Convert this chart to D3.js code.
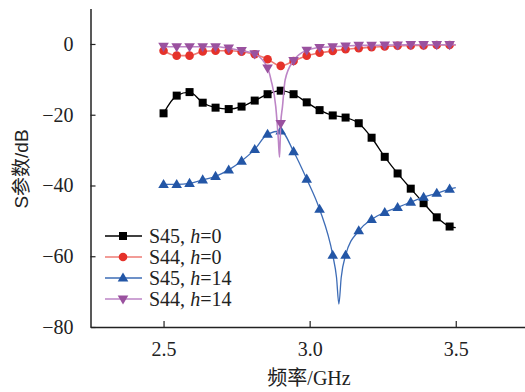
<!DOCTYPE html>
<html><head><meta charset="utf-8">
<script src="https://cdn.jsdelivr.net/npm/d3@7"></script>
<style>
html,body{margin:0;padding:0;background:#fff;}
svg{display:block;}
</style></head>
<body>
<svg id="chart" width="525" height="392"></svg>
<script>
// Marker frequencies (GHz)
const freq = [2.500, 2.545, 2.589, 2.634, 2.678, 2.723, 2.767, 2.812, 2.856, 2.901, 2.945, 2.990, 3.034, 3.079, 3.123, 3.168, 3.212, 3.257, 3.301, 3.346, 3.390, 3.435, 3.479];
// Series values at markers (dB)
const s45h0  = [-19.6, -14.6, -13.6, -16.6, -18.0, -18.4, -17.7, -16.0, -14.2, -13.2, -14.2, -16.5, -18.7, -20.2, -20.8, -22.4, -26.5, -31.9, -36.6, -40.9, -45.0, -49.0, -51.6];
const s44h0  = [-1.9, -3.3, -3.3, -2.1, -1.9, -1.9, -2.2, -2.9, -4.3, -6.2, -4.8, -3.3, -2.5, -2.0, -1.5, -1.2, -0.9, -0.7, -0.5, -0.4, -0.4, -0.3, -0.3];
const s45h14 = [-39.7, -39.7, -39.4, -38.4, -37.4, -35.6, -33.1, -29.8, -25.5, -24.6, -30.4, -38.2, -46.7, -59.7, -59.7, -52.8, -49.6, -47.6, -46.2, -44.7, -43.3, -42.2, -41.0];
const s44h14 = [-0.7, -0.8, -0.8, -0.8, -0.8, -1.2, -1.9, -2.8, -6.8, -22.5, -4.7, -1.8, -1.0, -0.8, -0.6, -0.4, -0.4, -0.3, -0.3, -0.2, -0.2, -0.2, -0.2];
// Extra line-only samples (no marker): resonance dips and end of sweep
const s45h0ExtraF  = [3.500];
const s45h0ExtraV  = [-51.9];
const s44h0ExtraF  = [3.500];
const s44h0ExtraV  = [-0.3];
const s45h14ExtraF = [3.092, 3.100, 3.108, 3.500];
const s45h14ExtraV = [-66.0, -73.5, -66.0, -40.6];
const s44h14ExtraF = [2.868, 2.884, 2.893, 2.897, 2.907, 2.916, 3.500];
const s44h14ExtraV = [-10.2, -17.7, -27.1, -32.0, -17.7, -10.2, -0.2];

const seriesNames = ["S45", "S44", "S45", "S44"];
const seriesH = ["0", "0", "14", "14"];
const xTicks = [2.5, 3.0, 3.5];
const yTicks = [0, -20, -40, -60, -80];

const svg = d3.select("#chart");
const serif = "'Liberation Serif','Times New Roman','Noto Sans CJK SC',serif";
const sans = "'Liberation Sans',Arial,'Noto Sans CJK SC',sans-serif";

const x = d3.scaleLinear().domain([2.25, 3.75]).range([90.5, 528.8]);
const y = d3.scaleLinear().domain([-80, 10]).range([327, 8.6]);

const series = [
  {vals: s45h0, ef: s45h0ExtraF, ev: s45h0ExtraV, line: "#000000", lw: 1.3, fill: "#000000", shape: "square"},
  {vals: s44h0, ef: s44h0ExtraF, ev: s44h0ExtraV, line: "#ee7b74", lw: 1.6, fill: "#e5322a", shape: "circle"},
  {vals: s45h14, ef: s45h14ExtraF, ev: s45h14ExtraV, line: "#3d6cb6", lw: 1.3, fill: "#2356a6", shape: "up"},
  {vals: s44h14, ef: s44h14ExtraF, ev: s44h14ExtraV, line: "#bd85c6", lw: 1.6, fill: "#9a519f", shape: "down"}
];

// axes
const xAxis = d3.axisBottom(x).tickValues(xTicks).tickFormat(d3.format(".1f")).tickSizeInner(-6).tickSizeOuter(0).tickPadding(15);
const yAxis = d3.axisLeft(y).tickValues(yTicks).tickFormat(d3.format("d")).tickSizeInner(-5).tickSizeOuter(0).tickPadding(17);

const gx = svg.append("g").attr("transform", "translate(0,327)").call(xAxis);
const gy = svg.append("g").attr("transform", "translate(90.5,0)").call(yAxis);
[gx, gy].forEach(g => {
  g.select(".domain").attr("stroke", "#222").attr("stroke-width", 1.5);
  g.selectAll(".tick line").attr("stroke", "#222").attr("stroke-width", 1.2);
  g.selectAll(".tick text").attr("fill", "#222").style("font-family", serif).style("font-size", "20px");
});

// titles
svg.append("text").attr("x", 309).attr("y", 385).attr("text-anchor", "middle")
  .style("font-family", serif).style("font-size", "20px").attr("fill", "#222").text("频率/GHz");
svg.append("text").attr("transform", "translate(28,169) rotate(-90)").attr("text-anchor", "middle")
  .style("font-family", sans).style("font-size", "19px").attr("fill", "#222").text("S参数/dB");

function drawMarker(g, shape, cx, cy, fill) {
  if (shape === "square") {
    g.append("rect").attr("x", cx - 4).attr("y", cy - 4).attr("width", 8).attr("height", 8).attr("fill", fill);
  } else if (shape === "circle") {
    g.append("circle").attr("cx", cx).attr("cy", cy).attr("r", 4.3).attr("fill", fill);
  } else if (shape === "up") {
    g.append("path").attr("d", `M${cx},${cy - 5.5}L${cx + 5.3},${cy + 3.6}L${cx - 5.3},${cy + 3.6}Z`).attr("fill", fill);
  } else {
    g.append("path").attr("d", `M${cx},${cy + 5.5}L${cx + 5.3},${cy - 3.6}L${cx - 5.3},${cy - 3.6}Z`).attr("fill", fill);
  }
}

const lineGen = d3.line().x(d => x(d[0])).y(d => y(d[1])).curve(d3.curveMonotoneX);

series.forEach(s => {
  const pts = freq.map((f, i) => [f, s.vals[i]]).concat(s.ef.map((f, i) => [f, s.ev[i]]));
  pts.sort((a, b) => a[0] - b[0]);
  const g = svg.append("g");
  g.append("path").attr("d", lineGen(pts)).attr("fill", "none").attr("stroke", s.line).attr("stroke-width", s.lw);
  freq.forEach((f, i) => drawMarker(g, s.shape, x(f), y(s.vals[i]), s.fill));
});

// legend
const legRows = [236, 257, 278, 299];
series.forEach((s, i) => {
  const g = svg.append("g");
  const ry = legRows[i];
  g.append("line").attr("x1", 105).attr("x2", 142).attr("y1", ry).attr("y2", ry).attr("stroke", s.line).attr("stroke-width", s.lw);
  drawMarker(g, s.shape, 123, ry, s.fill);
  const t = g.append("text").attr("x", 149).attr("y", ry + 7).style("font-family", serif).style("font-size", "20px").attr("fill", "#222");
  t.append("tspan").text(seriesNames[i] + ", ");
  t.append("tspan").style("font-style", "italic").text("h");
  t.append("tspan").text("=" + seriesH[i]);
});
</script>
</body></html>
